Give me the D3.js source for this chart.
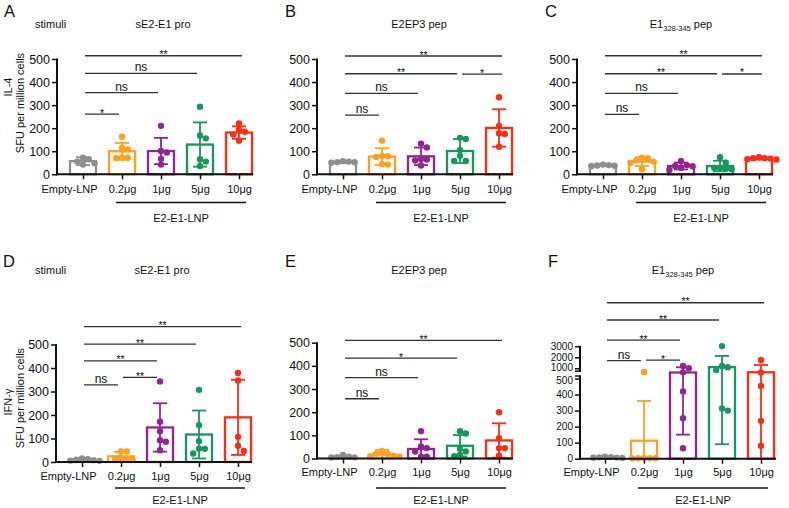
<!DOCTYPE html>
<html><head><meta charset="utf-8">
<script src="https://cdn.jsdelivr.net/npm/d3@7"></script>
<style>body{margin:0;background:#fff} svg{display:block} text{font-family:"Liberation Sans",Arial,sans-serif;fill:#111}</style>
</head><body><svg id="c" width="789" height="508"></svg>
<script>
// ---------- data ----------
const categories = ["Empty-LNP","0.2μg","1μg","5μg","10μg"];
const groupLabel = "E2-E1-LNP";
const colors = ["#8e8e8e","#ffa11c","#952394","#16975c","#ff2c12"];
const yTicks = [0,100,200,300,400,500];
const fTopTicks = [1000,2000,3000];

// A: IL-4, sE2-E1 pro
const aMeans = [57,100,101,129,181];
const aSD    = [17,36,57,96,27];
const aDots  = [[42,55,72,48,66],[163,115,108,72,70,72],[210,95,101,67,42],[293,168,156,65,55,36],[221,192,185,173,146]];
const aSig   = [["Empty-LNP","10μg",514,"**"],["Empty-LNP","5μg",438,"ns"],["Empty-LNP","1μg",354,"ns"],["Empty-LNP","0.2μg",261,"*"]];
// B: IL-4, E2EP3 pep
const bMeans = [53,77,78,101,201];
const bSD    = [3,36,38,52,81];
const bDots  = [[55,52,50,53,57],[146,78,75,42,45,80],[133,116,66,64,38,60],[153,158,105,80,58,58],[334,210,178,175,120]];
const bSig   = [["Empty-LNP","10μg",513,"**"],["Empty-LNP","5μg",436,"**"],["5μg","10μg",434,"*"],["Empty-LNP","1μg",351,"ns"],["Empty-LNP","0.2μg",257,"ns"]];
// C: IL-4, E1 328-345 pep
const cMeans = [39,55,36,36,68];
const cSD    = [3,19,15,23,4];
const cDots  = [[40,36,38,42,37],[72,70,60,50,55,22],[58,40,36,19,28,35],[74,50,28,22,24,28],[74,70,64,66,68,70]];
const cSig   = [["Empty-LNP","10μg",514,"**"],["Empty-LNP","5μg",436,"**"],["5μg","10μg",435,"*"],["Empty-LNP","1μg",351,"ns"],["Empty-LNP","0.2μg",260,"ns"]];
// D: IFN-γ, sE2-E1 pro
const dMeans = [11,24,147,117,190];
const dSD    = [5,19,103,102,160];
const dDots  = [[15,10,5,8,12,6],[45,45,15,10,12,14],[343,171,131,93,86,50],[307,157,89,57,56,36],[379,347,107,47,69]];
const dSig   = [["Empty-LNP","10μg",576,"**"],["Empty-LNP","5μg",502,"**"],["Empty-LNP","1μg",430,"**"],["0.2μg","1μg",360,"**"],["Empty-LNP","0.2μg",328,"ns"]];
// E: IFN-γ, E2EP3 pep
const eMeans = [7,17,41,55,78];
const eSD    = [4,20,42,46,74];
const eDots  = [[15,8,5,6,4],[33,20,20,9,9,11],[118,52,45,30,8,8],[118,108,30,42,15,10],[200,88,45,45,12]];
const eSig   = [["Empty-LNP","10μg",510,"**"],["Empty-LNP","5μg",433,"*"],["Empty-LNP","1μg",349,"ns"],["Empty-LNP","0.2μg",258,"ns"]];
// F: IFN-γ, E1 328-345 pep (broken axis)
const fMeans = [8,112,620,1110,640];
const fSD    = [3,248,470,1020,660];
const fDots  = [[10,8,5,6,12,7],[660,3,3,2,4,3],[1000,1210,630,419,252,65],[3020,1090,850,1210,300,313],[1750,620,454,236,81]];
const fSig   = [["Empty-LNP","10μg",6960,"**"],["Empty-LNP","5μg",5390,"**"],["Empty-LNP","1μg",3570,"**"],["Empty-LNP","0.2μg",1690,"ns"],["0.2μg","1μg",1750,"*"]];

// ---------- layout ----------
const svg = d3.select("#c");
const panels = [
  {letter:"A", means:aMeans, sd:aSD, dots:aDots, sig:aSig, axisX:57, bar0:83, y0:174.3, y500:59, row:0, title:"sE2-E1 pro", titleX:163, stimuli:true, ylab:["IL-4","SFU per million cells"], ylabY:[87,103]},
  {letter:"B", means:bMeans, sd:bSD, dots:bDots, sig:bSig, axisX:317, bar0:343, y0:174.3, y500:59, row:0, title:"E2EP3 pep", titleX:419},
  {letter:"C", means:cMeans, sd:cSD, dots:cDots, sig:cSig, axisX:577, bar0:603, y0:174.3, y500:59, row:0, title:"E1|328-345| pep", titleX:681},
  {letter:"D", means:dMeans, sd:dSD, dots:dDots, sig:dSig, axisX:56, bar0:82, y0:462, y500:344.5, row:1, title:"sE2-E1 pro", titleX:162, stimuli:true, ylab:["IFN-γ","SFU per million cells"], ylabY:[402,398]},
  {letter:"E", means:eMeans, sd:eSD, dots:eDots, sig:eSig, axisX:317, bar0:343, y0:458.5, y500:342.7, row:1, title:"E2EP3 pep", titleX:419},
  {letter:"F", means:fMeans, sd:fSD, dots:fDots, sig:fSig, axisX:580, bar0:605, y0:458.7, y500:378.5, row:1, title:"E1|328-345| pep", titleX:683, broken:true}
];
const rows = [
  {letterY:17, titleY:28, groupLineY:202.5, groupTextY:221.5, labelPad:6},
  {letterY:267, titleY:274, groupLineY:488, groupTextY:504, labelPad:5}
];

function drawPanel(p){
  const r = rows[p.row];
  const g = svg.append("g");
  const x = d3.scalePoint().domain(categories).range([p.bar0, p.bar0 + 156]);
  const yB = d3.scaleLinear().domain([0,500]).range([p.y0, p.y500]);
  let fy = yB, yT = null, sigY = yB;
  if (p.broken){
    yT = d3.scaleLinear().domain([1000,3000]).range([368.3,346.3]);
    const gapLo = yB(500), gapHi = yT(600);
    fy = v => v <= 500 ? yB(v) : (v >= 600 ? yT(v) : gapLo + (gapHi-gapLo)*(v-500)/100);
    sigY = yT;
  }

  // panel letter, titles
  g.append("text").attr("y", r.letterY)
    .attr("x", p.letter==="A"?4:p.letter==="D"?3:p.axisX-32)
    .style("font-size","16.5px").text(p.letter);
  if (p.stimuli) g.append("text").attr("x",35).attr("y",r.titleY).style("font-size","11px").text("stimuli");
  const tt = g.append("text").attr("x",p.titleX).attr("y",r.titleY).attr("text-anchor","middle").style("font-size","11px");
  const parts = p.title.split("|");
  if (parts.length === 3){
    tt.append("tspan").text(parts[0]);
    tt.append("tspan").attr("dy",3).style("font-size","7.5px").text(parts[1]);
    tt.append("tspan").attr("dy",-3).text(parts[2]);
  } else tt.text(p.title);

  // y labels
  if (p.ylab){
    g.append("text").attr("transform",`translate(12,${p.ylabY[0]}) rotate(-90)`).attr("text-anchor","middle").style("font-size","11px").text(p.ylab[0]);
    g.append("text").attr("transform",`translate(23.5,${p.ylabY[1]}) rotate(-90)`).attr("text-anchor","middle").style("font-size","11px").text(p.ylab[1]);
  }

  // bars
  categories.forEach((c,i)=>{
    const m = p.means[i];
    g.append("rect").attr("x",x(c)-13).attr("width",26)
      .attr("y",fy(m)).attr("height",fy(0)-fy(m))
      .attr("fill","#fff").attr("stroke",colors[i]).attr("stroke-width",2.3);
  });
  // error bars
  categories.forEach((c,i)=>{
    const m = p.means[i], s = p.sd[i];
    const lo = Math.max(0, m - s), hi = m + s;
    g.append("line").attr("x1",x(c)).attr("x2",x(c)).attr("y1",fy(lo)).attr("y2",fy(hi))
      .attr("stroke",colors[i]).attr("stroke-width",1.8);
    g.append("line").attr("x1",x(c)-7).attr("x2",x(c)+7).attr("y1",fy(hi)).attr("y2",fy(hi))
      .attr("stroke",colors[i]).attr("stroke-width",1.8);
    if (lo > 0) g.append("line").attr("x1",x(c)-7).attr("x2",x(c)+7).attr("y1",fy(lo)).attr("y2",fy(lo))
      .attr("stroke",colors[i]).attr("stroke-width",1.8);
  });
  // dots (beeswarm, dots just touching)
  const rad = 3.2, step = 5.8;
  categories.forEach((c,i)=>{
    const placed = [];
    const vals = p.dots[i].slice().sort((a,b)=>b-a);
    vals.forEach(v=>{
      const py = fy(v);
      const steps = [0,1,-1,2,-2,3,-3,4,-4];
      for (const k of steps){
        const px = x(c) + k*step;
        if (placed.every(q => Math.hypot(q[0]-px,q[1]-py) >= step*0.98)){ placed.push([px,py]); break; }
      }
    });
    placed.forEach(q=> g.append("circle").attr("cx",q[0]).attr("cy",q[1]).attr("r",rad).attr("fill",colors[i]));
  });

  // y axis
  const styleAxis = (sel, shift) => {
    sel.selectAll("text").style("font-size", p.broken ? "10px" : "12.5px").attr("fill","#111")
      .attr("transform", d => (p.broken && (d===500 || d===1000)) ? `translate(0,${d===500?1.5:-1.5})` : null);
    sel.selectAll(".tick line").attr("stroke","#111").attr("stroke-width",1.5);
    sel.select(".domain").remove();
  };
  g.append("g").attr("transform",`translate(${p.axisX},0)`)
    .call(d3.axisLeft(yB).tickValues(yTicks).tickFormat(d3.format("d")).tickSize(5).tickSizeOuter(0).tickPadding(2)).call(styleAxis);
  if (!p.broken){
    g.append("line").attr("x1",p.axisX).attr("x2",p.axisX).attr("y1",yB(0)+1).attr("y2",yB(500)-0.5).attr("stroke","#111").attr("stroke-width",2);
  } else {
    g.append("g").attr("transform",`translate(${p.axisX},0)`)
      .call(d3.axisLeft(yT).tickValues(fTopTicks).tickFormat(d3.format("d")).tickSize(5).tickSizeOuter(0).tickPadding(2)).call(styleAxis);
    const bTop = yB(500) - 2.5, tBot = yT(600) - 1.5;
    g.append("line").attr("x1",p.axisX).attr("x2",p.axisX).attr("y1",yB(0)+1).attr("y2",bTop).attr("stroke","#111").attr("stroke-width",2);
    g.append("line").attr("x1",p.axisX).attr("x2",p.axisX).attr("y1",yT(3000)-0.5).attr("y2",tBot).attr("stroke","#111").attr("stroke-width",2);
    [bTop,tBot].forEach(yy=> g.append("line").attr("x1",p.axisX-5).attr("x2",p.axisX+1).attr("y1",yy).attr("y2",yy).attr("stroke","#111").attr("stroke-width",1.5));
  }

  // x axis
  const xa = g.append("g").attr("transform",`translate(0,${yB(0)})`)
    .call(d3.axisBottom(x).tickSize(5).tickSizeOuter(0).tickPadding(r.labelPad));
  xa.select(".domain").remove();
  xa.selectAll(".tick line").attr("stroke","#111").attr("stroke-width",1.5);
  xa.selectAll("text").style("font-size","11px").attr("fill","#111")
    .attr("dx", d => d === categories[0] ? -14 : 0);
  g.append("line").attr("x1",p.axisX-1).attr("x2",p.axisX+196).attr("y1",yB(0)).attr("y2",yB(0)).attr("stroke","#111").attr("stroke-width",2);

  // group line
  g.append("line").attr("x1",x(categories[1])-6).attr("x2",x(categories[4])+7)
    .attr("y1",r.groupLineY).attr("y2",r.groupLineY).attr("stroke","#111").attr("stroke-width",1.5);
  g.append("text").attr("x",(x(categories[1])-6 + x(categories[4])+7)/2).attr("y",r.groupTextY)
    .attr("text-anchor","middle").style("font-size","11px").text(groupLabel);

  // significance
  p.sig.forEach(([a,b,v,lab])=>{
    const x1 = x(a) + 2;
    const x2 = b === categories[4] ? x(b) + 3 : x(b) - 3;
    const yy = sigY(v);
    g.append("line").attr("x1",x1).attr("x2",x2).attr("y1",yy).attr("y2",yy).attr("stroke","#333").attr("stroke-width",1.3);
    const isStar = lab.indexOf("*") >= 0;
    g.append("text").attr("x",(x1+x2)/2).attr("y", isStar ? yy + 2.5 : yy - 2)
      .attr("text-anchor","middle").style("font-size", isStar ? "10.5px" : "12px").text(lab);
  });
}
panels.forEach(drawPanel);
</script></body></html>
